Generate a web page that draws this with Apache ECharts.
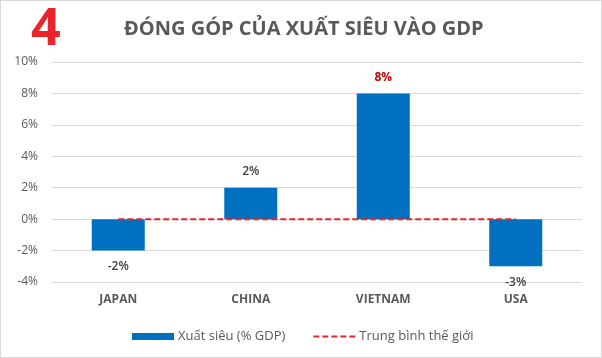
<!DOCTYPE html>
<html><head><meta charset="utf-8">
<script src="https://cdn.jsdelivr.net/npm/echarts@6/dist/echarts.min.js"></script>
<style>html,body{margin:0;padding:0;background:#fff}#c{width:600px;height:356px;border:1px solid #d9d9d9}</style>
</head><body><div id="c"></div>
<script>
const categories = ['JAPAN', 'CHINA', 'VIETNAM', 'USA'];
const netExports = [-2, 2, 8, -3];
const worldAverage = [0, 0, 0, 0];
const yTicks = [-4, -2, 0, 2, 4, 6, 8, 10];

const chart = echarts.init(document.getElementById('c'));
chart.setOption({
  animation: false,
  textStyle: { fontFamily: 'Open Sans' },
  graphic: [
    { type: 'text', x: 30, y: 29, style: { text: '4', fill: '#e8242c', font: 'bold 52px "Open Sans"', verticalAlign: 'middle' } },
    { type: 'text', x: 123, y: 28, style: { text: 'ĐÓNG GÓP CỦA XUẤT SIÊU VÀO GDP', fill: '#595959', font: 'bold 20px "Open Sans"', verticalAlign: 'middle' } }
  ],
  grid: { left: 51, right: 19, top: 61, bottom: 75 },
  legend: {
    bottom: 14, left: 131, padding: 0, itemGap: 27, itemWidth: 42, itemHeight: 7,
    textStyle: { color: '#595959', fontSize: 13, padding: [0, 0, 0, -1] },
    data: [
      { name: 'Xuất siêu (% GDP)', icon: 'rect' },
      { name: 'Trung bình thế giới', itemStyle: { opacity: 0 } }
    ]
  },
  xAxis: {
    type: 'category', data: categories,
    axisLine: { show: false }, axisTick: { show: false },
    axisLabel: { color: '#595959', fontWeight: 'bold', fontSize: 12, margin: 12 }
  },
  yAxis: {
    type: 'value', min: -4, max: 10, interval: 2,
    axisLabel: { color: '#595959', fontSize: 12, formatter: v => v + '%', margin: 14 },
    splitLine: { lineStyle: { color: '#d9d9d9' } },
    axisLine: { show: false }, axisTick: { show: false }
  },
  series: [
    {
      name: 'Xuất siêu (% GDP)', type: 'bar', data: netExports.map((v, i) => ({
        value: v,
        label: categories[i] === 'VIETNAM' ? { color: '#c00000', fontWeight: 'bold' } : {}
      })),
      barWidth: '40%', itemStyle: { color: '#0070c0' },
      label: {
        show: true, formatter: p => p.value + '%', color: '#404040', fontWeight: 600, fontSize: 12,
        position: 'outside', distance: 10
      }
    },
    {
      name: 'Trung bình thế giới', type: 'line', data: worldAverage, symbol: 'none',
      lineStyle: { color: '#e8242c', type: [6, 3], width: 2 }, itemStyle: { color: '#e8242c' }
    }
  ]
});
</script></body></html>
